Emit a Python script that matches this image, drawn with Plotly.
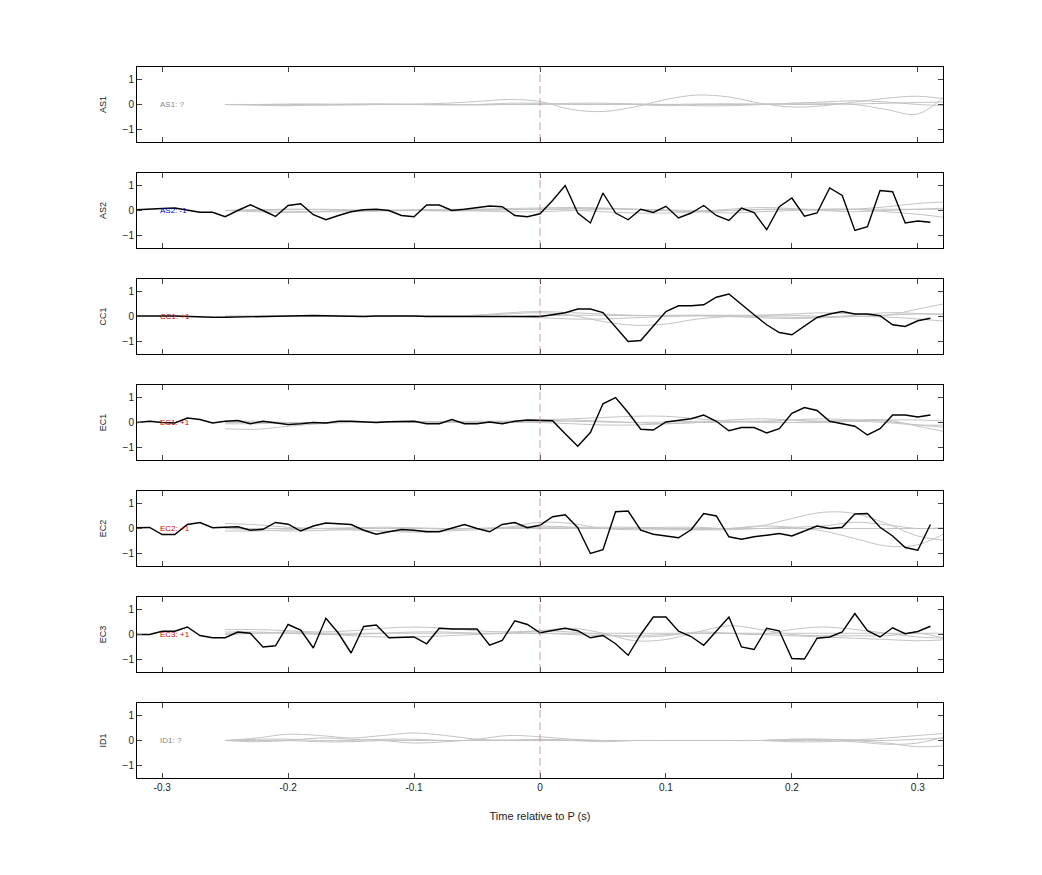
import numpy as np
import plotly.graph_objects as go

channels = ["AS1", "AS2", "CC1", "EC1", "EC2", "EC3", "ID1"]
labels = ["AS1: ?", "AS2: -1", "CC1: +1", "EC1: +1", "EC2: +1", "EC3: +1", "ID1: ?"]
label_colors = ["#888888", "#0000cc", "#cc0000", "#cc0000", "#cc0000", "#cc0000", "#888888"]

t_black = [round(-0.32 + 0.01 * i, 2) for i in range(64)]
black = {
    "AS2": [0.03, 0.04, 0.08, 0.1, 0.0, -0.07, -0.07, -0.25, 0.0, 0.23, 0.0, -0.24, 0.2, 0.27, -0.17, -0.37,
            -0.2, -0.05, 0.03, 0.05, 0.0, -0.2, -0.25, 0.22, 0.22, 0.0, 0.05, 0.1, 0.18, 0.15, -0.2, -0.25,
            -0.13, 0.4, 1.0, -0.1, -0.5, 0.7, -0.1, -0.37, 0.05, -0.08, 0.17, -0.3, -0.1, 0.2, -0.2, -0.4,
            0.1, -0.08, -0.77, 0.15, 0.5, -0.23, -0.1, 0.9, 0.6, -0.8, -0.65, 0.8, 0.75, -0.5, -0.42, -0.47],
    "CC1": [0.02, 0.03, 0.02, 0.02, 0.0, -0.02, -0.03, -0.03, -0.02, 0.0, 0.02, 0.02, 0.02, 0.03, 0.04, 0.03,
            0.02, 0.0, 0.0, 0.02, 0.03, 0.03, 0.02, 0.0, 0.0, 0.02, 0.0, 0.02, 0.02, 0.02, 0.0, 0.0,
            0.0, 0.07, 0.15, 0.3, 0.3, 0.16, -0.4, -1.0, -0.96, -0.38, 0.2, 0.43, 0.43, 0.47, 0.77, 0.9,
            0.47, 0.07, -0.33, -0.64, -0.73, -0.4, -0.04, 0.1, 0.2, 0.1, 0.1, 0.03, -0.33, -0.4, -0.17, -0.07],
    "EC1": [0.0, 0.05, 0.0, -0.02, 0.18, 0.12, -0.02, 0.05, 0.08, -0.05, 0.05, 0.0, -0.08, -0.05, 0.0, -0.02,
            0.05, 0.05, 0.02, 0.0, 0.03, 0.05, 0.05, -0.05, -0.05, 0.12, -0.05, -0.05, 0.02, -0.05, 0.05, 0.1,
            0.1, 0.07, -0.45, -0.95, -0.4, 0.75, 1.0, 0.4, -0.27, -0.3, 0.02, 0.1, 0.15, 0.3, 0.05, -0.33,
            -0.2, -0.2, -0.42, -0.25, 0.37, 0.6, 0.48, 0.05, -0.05, -0.15, -0.5, -0.25, 0.3, 0.3, 0.22, 0.3],
    "EC2": [0.03, 0.04, -0.24, -0.24, 0.16, 0.24, 0.03, 0.04, 0.07, -0.07, -0.03, 0.24, 0.17, -0.1, 0.1, 0.22,
            0.2, 0.16, -0.07, -0.23, -0.13, -0.04, -0.07, -0.13, -0.13, 0.03, 0.16, 0.0, -0.13, 0.16, 0.24, 0.03,
            0.13, 0.47, 0.55, 0.03, -1.0, -0.85, 0.67, 0.7, -0.07, -0.23, -0.3, -0.37, -0.05, 0.6, 0.5, -0.33,
            -0.43, -0.33, -0.27, -0.2, -0.3, -0.1, 0.1, 0.0, 0.05, 0.58, 0.6, 0.05, -0.3, -0.76, -0.87, 0.16],
    "EC3": [0.0, 0.0, 0.13, 0.13, 0.3, -0.04, -0.13, -0.13, 0.1, 0.05, -0.5, -0.45, 0.4, 0.18, -0.54, 0.65,
            0.05, -0.74, 0.32, 0.38, -0.13, -0.1, -0.1, -0.37, 0.25, 0.22, 0.22, 0.22, -0.43, -0.24, 0.55, 0.4,
            0.07, 0.15, 0.25, 0.15, -0.13, -0.04, -0.37, -0.83, 0.0, 0.7, 0.7, 0.13, -0.08, -0.43, 0.15, 0.7,
            -0.5, -0.6, 0.25, 0.15, -0.96, -0.98, -0.15, -0.1, 0.1, 0.84, 0.15, -0.1, 0.27, 0.03, 0.12, 0.33],
}

t_gray = [round(-0.25 + 0.025 * i, 3) for i in range(24)]
gray = {
    "AS1": [
        [0, 0, -0.02, -0.03, -0.02, 0, 0.02, 0.05, 0.12, 0.2, 0.12, -0.2, -0.28, -0.1, 0.2, 0.38, 0.3, 0.05, -0.1, -0.05, 0.1, 0.25, 0.33, 0.2],
        [0, 0, 0, 0, 0, 0, 0, 0, 0, 0.05, 0.05, 0, 0, 0, -0.05, 0, 0, 0, 0.05, 0.05, 0, -0.2, -0.38, 0.5],
        [0, -0.03, -0.05, 0, 0.02, 0.03, 0, 0, 0, 0, 0, 0.05, 0.05, 0.03, 0, -0.05, -0.05, 0, 0.05, 0.1, 0.15, 0.1, 0, -0.05],
        [0, 0, 0.02, 0.02, 0, 0, 0, -0.02, -0.02, 0, 0.02, 0.02, 0, 0, 0, 0.02, 0.03, 0.02, 0, 0, 0.02, 0.05, 0.08, 0.1],
    ],
    "AS2": [
        [0, 0.02, 0.05, 0.05, 0.03, 0, 0, 0.02, 0.05, 0.08, 0.1, 0.12, 0.1, 0.05, 0, -0.05, 0, 0.05, 0.05, 0, 0.05, 0.15, 0.28, 0.35],
        [0, -0.05, -0.08, -0.05, 0, 0.02, 0, -0.02, 0, 0.03, 0.05, 0.02, -0.05, -0.1, -0.1, -0.05, 0.05, 0.12, 0.08, 0, -0.05, 0, 0.05, 0.1],
        [0, 0, -0.03, -0.05, -0.05, -0.02, 0, 0, -0.02, -0.05, -0.05, 0, 0.05, 0.05, 0, -0.05, -0.1, -0.05, 0, 0.05, 0.05, -0.05, -0.15, -0.3],
        [0, 0.03, 0.05, 0.03, 0, 0, 0.03, 0.05, 0.05, 0.03, 0.05, 0.08, 0.08, 0.05, 0.02, 0, 0, 0.03, 0.05, 0.05, 0.05, 0.05, 0.05, 0.05],
    ],
    "CC1": [
        [0, 0, 0, 0, 0, 0, 0, 0.02, 0.05, 0.1, 0.15, 0.05, -0.2, -0.35, -0.3, -0.1, 0, 0.05, 0.05, 0, 0, -0.02, -0.1, -0.2],
        [0.02, 0.02, 0.02, 0.02, 0.02, 0.02, 0.02, 0.02, 0.05, 0.15, 0.2, 0.15, 0.1, 0.05, 0.03, 0.05, 0.05, 0.05, 0.1, 0.15, 0.1, 0.05, 0.3, 0.55],
        [0, 0, 0, 0, 0, 0, 0, 0, 0, 0, -0.05, -0.1, -0.1, -0.05, 0, 0.02, 0, -0.05, -0.08, -0.05, 0, 0.05, 0.1, 0.1],
        [0, 0.02, 0.02, 0, 0, 0, 0.02, 0.02, 0, 0, 0.03, 0.05, 0.05, 0.03, 0.05, 0.05, 0.03, 0, -0.03, -0.03, 0.05, 0.15, 0.12, 0.05],
    ],
    "EC1": [
        [-0.25, -0.27, -0.15, -0.05, 0, 0.02, 0.03, 0.03, 0.02, 0.05, 0.1, 0.15, 0.2, 0.25, 0.25, 0.15, 0.05, 0, 0, 0.05, 0.05, 0, -0.1, -0.1],
        [-0.05, -0.05, 0, 0, 0, 0.03, 0.05, 0.03, 0, 0, 0.05, 0.1, 0.05, 0, -0.05, 0, 0.1, 0.15, 0.1, 0.05, 0.1, 0.1, -0.15, -0.4],
        [0, 0, 0, 0, 0, 0, 0, 0, 0, 0, 0, -0.05, -0.1, -0.1, -0.05, 0, 0, 0.05, 0.1, 0.15, 0.1, 0.05, -0.1, -0.2],
        [0.05, 0.05, 0, 0, 0, 0, 0, 0.02, 0.05, 0.05, 0.05, 0.05, 0.02, 0, 0.02, 0.05, 0.05, 0.05, 0, 0, 0.05, 0.1, 0.1, 0.05],
    ],
    "EC2": [
        [0.2, 0.15, 0.05, 0, -0.05, -0.1, -0.1, -0.05, 0, 0.05, 0.1, 0.05, 0, 0.02, 0.05, 0.05, 0, 0.1, 0.4, 0.65, 0.6, 0.2, -0.3, -0.5],
        [0, -0.05, -0.1, -0.08, -0.05, -0.1, -0.15, -0.1, -0.05, 0.05, 0.25, 0.2, 0, -0.05, -0.05, -0.05, 0, 0.1, 0.05, -0.1, -0.4, -0.7, -0.65, -0.1],
        [-0.1, -0.1, -0.05, 0, 0.03, 0.05, 0.03, 0, 0, 0.03, 0.05, 0.05, 0.05, 0.05, 0, -0.05, -0.05, 0, 0.05, 0.1, 0.25, 0.15, 0, 0.05],
        [0, 0, 0, 0, 0, 0, 0, 0, 0, 0, 0, 0, 0, 0, 0, 0, 0, 0, 0, 0, 0, 0, 0, 0],
    ],
    "EC3": [
        [0.2, 0.2, 0.15, 0.1, 0.15, 0.25, 0.3, 0.25, 0.15, 0.1, 0.15, 0.1, 0, -0.1, -0.05, 0.1, 0.05, 0, 0.2, 0.3, 0.2, 0.05, -0.1, -0.15],
        [0.1, 0.1, 0.05, 0, 0, 0.05, 0.1, 0.1, 0.05, 0.05, 0.15, 0.25, 0.05, -0.25, -0.2, 0.1, 0.35, 0.2, 0, -0.05, -0.05, -0.05, 0.05, -0.2],
        [0, 0.05, 0.1, 0.05, -0.05, -0.1, -0.1, -0.05, 0, 0.05, 0.05, 0, -0.05, -0.05, 0, 0.05, 0.05, 0, -0.05, -0.1, -0.15, -0.2, -0.25, -0.2],
        [0.05, 0.05, 0.05, 0.05, 0.05, 0.05, 0.05, 0.05, 0.05, 0.05, 0.05, 0.05, 0.05, 0.05, 0.05, 0.05, 0.05, 0.05, 0.05, 0.05, 0.05, 0.05, 0.05, 0.05],
    ],
    "ID1": [
        [0, 0.1, 0.25, 0.2, 0.1, 0.2, 0.3, 0.2, 0.05, 0, 0.05, 0, -0.05, 0, 0, 0, 0, 0, 0.05, 0.05, 0, -0.1, -0.25, -0.2],
        [0, -0.05, 0, 0.1, 0.05, 0, -0.1, -0.05, 0.05, 0.2, 0.15, 0.05, 0, 0, 0, 0, 0, 0, 0, 0, -0.05, -0.15, -0.1, 0.2],
        [0, 0, 0, -0.05, -0.05, 0, 0, 0, 0, 0.02, 0.03, 0.02, 0, 0, 0, 0, 0, 0, 0.05, 0.05, 0.03, 0.1, 0.2, 0.3],
        [0, 0.05, 0.05, 0, 0, 0.05, 0.05, 0, 0, 0, 0, 0, 0, 0, 0, 0, 0, 0, -0.05, -0.05, 0, 0, 0.05, 0.1],
    ],
}

x_ticks = [-0.3, -0.2, -0.1, 0, 0.1, 0.2, 0.3]
x_tick_text = ["-0.3", "-0.2", "-0.1", "0", "0.1", "0.2", "0.3"]
y_ticks = [-1, 0, 1]

fig = go.Figure()
n = len(channels)
top_px, bot_px, panel_h, step_px = 67, 778, 75, 106
total = bot_px - top_px
font = "Liberation Sans, Arial, sans-serif"

for i, ch in enumerate(channels):
    k = "" if i == 0 else str(i + 1)
    ptop = top_px + step_px * i
    pbot = ptop + panel_h
    dom = [(bot_px - pbot) / total, (bot_px - ptop) / total]
    for g in gray[ch]:
        fig.add_trace(go.Scatter(x=t_gray, y=g, mode="lines", line=dict(color="#c4c4c4", width=1, shape="spline"),
                                 xaxis="x" + k, yaxis="y" + k, showlegend=False, hoverinfo="skip"))
    if ch in black:
        fig.add_trace(go.Scatter(x=t_black, y=black[ch], mode="lines", line=dict(color="black", width=1.4),
                                 xaxis="x" + k, yaxis="y" + k, showlegend=False))
    last = i == n - 1
    fig.layout["xaxis" + k] = dict(domain=[0, 1], anchor="y" + k, range=[-0.32, 0.32], tickvals=x_ticks,
                                   ticktext=x_tick_text, showticklabels=last, ticks="inside", ticklen=5,
                                   showline=True, linecolor="black", linewidth=1, mirror="ticks",
                                   showgrid=False, zeroline=False, tickfont=dict(size=10, family=font, color="#222"),
                                   title=dict(text="Time relative to P (s)" if last else "",
                                              font=dict(size=11, family=font, color="#222"), standoff=20))
    fig.layout["yaxis" + k] = dict(domain=dom, anchor="x" + k, range=[-1.5, 1.5], tickvals=y_ticks,
                                   ticks="inside", ticklen=5, showline=True, linecolor="black", linewidth=1,
                                   mirror="ticks", showgrid=False, zeroline=False,
                                   tickfont=dict(size=10, family=font, color="#222"),
                                   title=dict(text=ch, font=dict(size=9, family=font, color="#222"), standoff=14))
    fig.add_shape(type="line", x0=0, x1=0, y0=-1.5, y1=1.5, xref="x" + k, yref="y" + k,
                  line=dict(color="rgba(190,140,140,0.8)", width=1, dash="8px,4px"))
    fig.add_annotation(x=-0.303, y=0, xref="x" + k, yref="y" + k, text=labels[i], showarrow=False,
                       xanchor="left", font=dict(size=8, family=font, color=label_colors[i]))

fig.update_layout(width=1042, height=875, margin=dict(l=129, r=107, t=59, b=105),
                  plot_bgcolor="white", paper_bgcolor="white", showlegend=False)
fig.write_html("out.html")
